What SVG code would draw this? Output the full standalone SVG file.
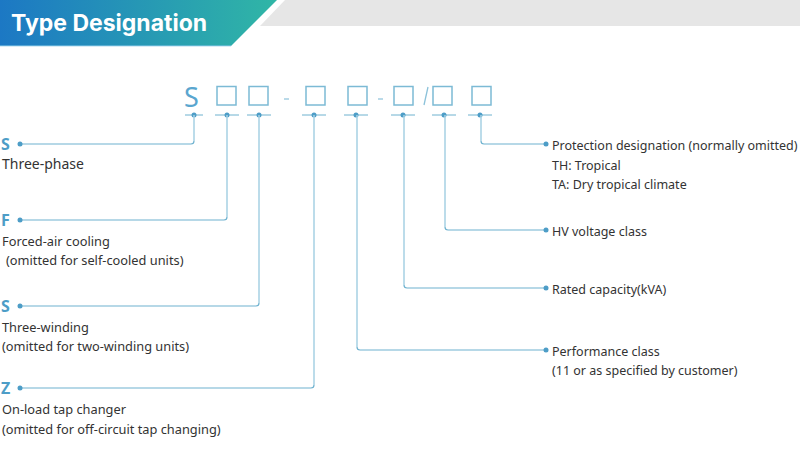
<svg xmlns="http://www.w3.org/2000/svg" width="800" height="458" viewBox="0 0 800 458">
<defs>
<linearGradient id="hg" x1="0" y1="0" x2="1" y2="0">
<stop offset="0" stop-color="#1c78c4"/>
<stop offset="1" stop-color="#30b6a6"/>
</linearGradient>
<style>
.title{font-family:Inter,"Noto Sans",sans-serif;font-weight:700;font-size:23px;fill:#fff}
.code{font-family:"Noto Sans",sans-serif;font-size:27px;fill:#5aa6cf}
.box{fill:none;stroke:#7cbad5;stroke-width:1.5}
.tick{stroke:#6fb2cf;stroke-width:1;fill:none}
.vert{stroke:#a6d0e3;stroke-width:1.5;fill:none}
.conn{stroke:#6fb2cf;stroke-width:1.2;fill:none}
.dot{fill:#4d9dc7}
.key{font-family:"Noto Sans",sans-serif;font-weight:700;font-size:16px;fill:#4d9dc7}
.lbl{font-family:"Noto Sans",sans-serif;font-size:14px;fill:#333}
.sub{font-family:"Noto Sans",sans-serif;font-size:12.5px;fill:#333}
.subl{font-family:"Noto Sans",sans-serif;font-size:12.8px;fill:#333}
</style>
</defs>
<rect width="800" height="458" fill="#fff"/>
<g id="header">
<polygon points="0,0 277,0 231,46 0,46" fill="url(#hg)"/>
<rect x="0" y="45" width="231" height="1.5" fill="#7fc3e3" opacity="0.6"/>
<polygon points="285,0 800,0 800,26 260,26" fill="#e6e6e6"/>
<text class="title" x="11" y="31">Type Designation</text>
</g>
<g id="code">
<text class="code" x="184" y="107">S</text>
<rect class="box" x="217" y="86.5" width="19" height="18.5"/>
<rect class="box" x="249" y="86.5" width="19" height="18.5"/>
<line x1="284" y1="99" x2="289" y2="99" stroke="#8cc2da" stroke-width="1.2"/>
<rect class="box" x="306" y="86.5" width="19" height="18.5"/>
<rect class="box" x="348" y="86.5" width="19" height="18.5"/>
<line x1="378" y1="99" x2="383" y2="99" stroke="#8cc2da" stroke-width="1.2"/>
<rect class="box" x="394" y="86.5" width="19" height="18.5"/>
<line x1="428" y1="87" x2="424" y2="105" stroke="#8cc2da" stroke-width="1.3"/>
<rect class="box" x="433" y="86.5" width="19" height="18.5"/>
<rect class="box" x="472" y="86.5" width="19" height="18.5"/>
</g>
<g id="connectors">
<g class="tick">
<line x1="185" y1="115" x2="203" y2="115"/>
<line x1="215" y1="115" x2="239" y2="115"/>
<line x1="247" y1="115" x2="271" y2="115"/>
<line x1="302" y1="115" x2="326" y2="115"/>
<line x1="344" y1="115" x2="368" y2="115"/>
<line x1="391" y1="115" x2="415" y2="115"/>
<line x1="432" y1="115" x2="456" y2="115"/>
<line x1="468" y1="115" x2="492" y2="115"/>
</g>
<g class="dot">
<circle cx="194" cy="115" r="2.5"/>
<circle cx="227" cy="115" r="2.5"/>
<circle cx="259" cy="115" r="2.5"/>
<circle cx="314" cy="115" r="2.5"/>
<circle cx="356" cy="115" r="2.5"/>
<circle cx="403" cy="115" r="2.5"/>
<circle cx="444" cy="115" r="2.5"/>
<circle cx="480" cy="115" r="2.5"/>
</g>
<g class="vert">
<line x1="194" y1="115" x2="194" y2="141"/>
<line x1="227" y1="115" x2="227" y2="217"/>
<line x1="259" y1="115" x2="259" y2="303"/>
<line x1="314" y1="115" x2="314" y2="385"/>
<line x1="357" y1="115" x2="357" y2="347"/>
<line x1="404" y1="115" x2="404" y2="285"/>
<line x1="445" y1="115" x2="445" y2="227"/>
<line x1="481" y1="115" x2="481" y2="141"/>
</g>
<g class="conn">
<path d="M20,144 H191 Q194,144 194,141"/>
<path d="M20,220 H224 Q227,220 227,217"/>
<path d="M20,306 H256 Q259,306 259,303"/>
<path d="M20,388 H311 Q314,388 314,385"/>
<path d="M546,144 H484 Q481,144 481,141"/>
<path d="M546,230 H448 Q445,230 445,227"/>
<path d="M546,288 H407 Q404,288 404,285"/>
<path d="M546,350 H360 Q357,350 357,347"/>
</g>
<g class="dot">
<circle cx="20" cy="144" r="2.5"/>
<circle cx="20" cy="220" r="2.5"/>
<circle cx="20" cy="306" r="2.5"/>
<circle cx="20" cy="388" r="2.5"/>
<circle cx="546" cy="144" r="2.5"/>
<circle cx="546" cy="230" r="2.5"/>
<circle cx="546" cy="288" r="2.5"/>
<circle cx="546" cy="350" r="2.5"/>
</g>
</g>
<g id="n-s">
<text class="key" x="1" y="150">S</text>
<text class="lbl" x="2" y="169">Three-phase</text>
</g>
<g id="n-f">
<text class="key" x="1" y="226">F</text>
<text class="subl" x="2" y="246">Forced-air cooling</text>
<text class="subl" x="6" y="265">(omitted for self-cooled units)</text>
</g>
<g id="n-s2">
<text class="key" x="1" y="312">S</text>
<text class="subl" x="2" y="332">Three-winding</text>
<text class="subl" x="2" y="351">(omitted for two-winding units)</text>
</g>
<g id="n-z">
<text class="key" x="1" y="394">Z</text>
<text class="subl" x="2" y="414">On-load tap changer</text>
<text class="subl" x="2" y="434">(omitted for off-circuit tap changing)</text>
</g>
<g id="n-protection">
<text class="sub" x="552" y="150">Protection designation (normally omitted)</text>
<text class="sub" x="552" y="170">TH: Tropical</text>
<text class="sub" x="552" y="189">TA: Dry tropical climate</text>
</g>
<g id="n-hv">
<text class="sub" x="552" y="236">HV voltage class</text>
</g>
<g id="n-rated">
<text class="sub" x="552" y="294">Rated capacity(kVA)</text>
</g>
<g id="n-perf">
<text class="sub" x="552" y="356">Performance class</text>
<text class="sub" x="552" y="375">(11 or as specified by customer)</text>
</g>
</svg>
